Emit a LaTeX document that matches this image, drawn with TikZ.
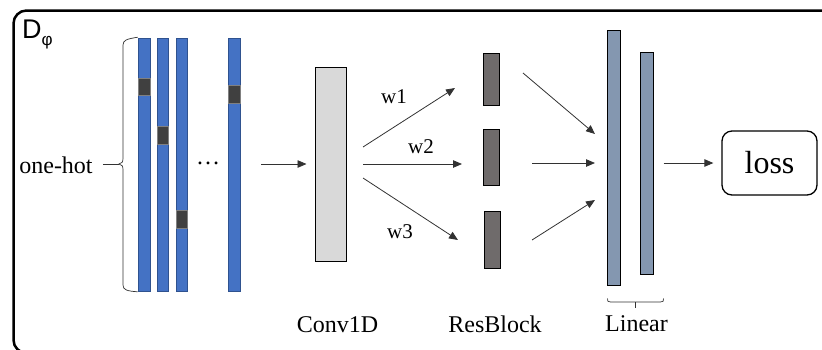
\documentclass[tikz,border=0pt]{standalone}
\usepackage{fontspec}
\setmainfont{Liberation Serif}
\newfontfamily\labsans{Liberation Sans}
\usetikzlibrary{arrows.meta}
\definecolor{hotblue}{RGB}{68,114,196}
\definecolor{hotblueb}{RGB}{47,82,143}
\definecolor{cellgray}{RGB}{64,64,64}
\definecolor{convgray}{RGB}{217,217,217}
\definecolor{resgray}{RGB}{111,107,107}
\definecolor{linblue}{RGB}{132,151,176}
\definecolor{linegray}{RGB}{50,50,50}
\tikzset{
  hotbar/.style={draw=hotblueb, line width=0.6pt, fill=hotblue, inner sep=0pt},
  hotcell/.style={draw=gray, line width=0.6pt, fill=cellgray, inner sep=0pt},
  convbox/.style={draw=black, line width=1pt, fill=convgray, inner sep=0pt, minimum width=31pt, minimum height=194pt},
  resbox/.style={draw=black, line width=1pt, fill=resgray, inner sep=0pt, minimum width=15.5pt},
  linbox/.style={draw=black, line width=1pt, fill=linblue, inner sep=0pt, minimum width=13pt},
  lossbox/.style={draw=black, line width=1.3pt, rounded corners=10pt, minimum width=95pt, minimum height=64pt, inner sep=0pt, font=\fontsize{32}{36}\selectfont},
  arr/.style={draw=linegray, line width=0.8pt, -{Triangle[length=9pt,width=7.5pt]}},
  lbl/.style={font=\fontsize{24}{28}\selectfont, inner sep=0pt, anchor=base},
  wlbl/.style={font=\fontsize{21}{24}\selectfont, inner sep=0pt, anchor=base},
  bracethin/.style={draw=linegray, line width=0.7pt}
}
\begin{document}
\begin{tikzpicture}[x=1pt,y=-1pt]
\useasboundingbox (0,0) rectangle (822,349);
\begin{scope}
\clip (0,0) rectangle (822,349);
\draw[line width=2.5pt, rounded corners=13pt] (13.5,10.5) rectangle (840,353);
\end{scope}
\node[anchor=base west, inner sep=0pt, font=\labsans\fontsize{27}{30}\selectfont] (dphi) at (22,38) {D\raisebox{-7pt}{\fontsize{17}{18}\selectfont φ}};

% one-hot bars
\node[hotbar, minimum width=12pt, minimum height=253pt] (b1) at (144,164.5) {};
\node[hotbar, minimum width=11pt, minimum height=253pt] (b2) at (162.5,164.5) {};
\node[hotbar, minimum width=11pt, minimum height=253pt] (b3) at (181.5,164.5) {};
\node[hotbar, minimum width=12pt, minimum height=253pt] (b4) at (234,164.5) {};
\node[hotcell, minimum width=12pt, minimum height=17pt] (c1) at (144,86.5) {};
\node[hotcell, minimum width=11pt, minimum height=18pt] (c2) at (162.5,135.5) {};
\node[hotcell, minimum width=11pt, minimum height=18pt] (c3) at (181.5,219) {};
\node[hotcell, minimum width=12pt, minimum height=18pt] (c4) at (234,94) {};
\node[inner sep=0pt, anchor=base, font=\fontsize{24}{28}\selectfont] (dots) at (208,164) {…};

% brace and one-hot label
\coordinate (btip) at (119,164);
\draw[bracethin] ([yshift=-0.5pt]b1.south west) .. controls (127,291) and (123,290) .. (123,285)
  -- (123,170) .. controls (123,166) and (122,164.5) .. (btip)
  .. controls (122,163.5) and (123,162) .. (123,158)
  -- (123,45) .. controls (123,40) and (127,39) .. ([yshift=0.5pt]b1.north west);
\node[lbl] (onehot) at (56,173) {one-hot};
\draw[bracethin] (onehot.east |- btip) ++(10,0) coordinate (ls) -- (btip);

% Conv1D
\node[convbox] (conv) at (330.5,164) {};
\draw[arr, shorten <=21pt, shorten >=8pt] (b4.east |- conv.west) -- (conv.west);

% ResBlocks
\node[resbox, minimum height=52pt] (r1) at (491.5,79) {};
\node[resbox, minimum height=56pt] (r2) at (491.5,157) {};
\node[resbox, minimum height=57pt] (r3) at (492.5,239.5) {};

\coordinate (s1) at (363,147);
\coordinate (e1) at (455,88);
\coordinate (s2) at (363,164);
\coordinate (e2) at (462,164);
\coordinate (s3) at (363,178);
\coordinate (e3) at (458,240);
\draw[arr] (s1) -- (e1);
\draw[arr] (s2) -- (e2);
\draw[arr] (s3) -- (e3);
\node[wlbl] (w1) at (394,103) {w1};
\node[wlbl] (w2) at (421,153) {w2};
\node[wlbl] (w3) at (400,238) {w3};

% Linear
\node[linbox, minimum height=255pt] (l1) at (613.5,157.5) {};
\node[linbox, minimum height=222pt] (l2) at (646.5,163) {};
\coordinate (t1) at (523,73);
\coordinate (u1) at (595,134);
\coordinate (t2) at (532,163);
\coordinate (u2) at (595,163);
\coordinate (t3) at (532,240);
\coordinate (u3) at (595,200);
\draw[arr] (t1) -- (u1);
\draw[arr] (t2) -- (u2);
\draw[arr] (t3) -- (u3);
\coordinate (lbl1) at (607.5,298.5);
\coordinate (lbl2) at (663.5,298.5);
\draw[bracethin] (lbl1) .. controls (607.5,301.5) .. (610.5,302) -- (660.5,302) .. controls (663.5,301.5) .. (lbl2);
\draw[bracethin] (635.5,302) -- (635.5,308);

% loss
\node[lossbox] (loss) at (769.5,163) {loss};
\draw[arr, shorten <=10pt, shorten >=8pt] (l2.east |- loss.west) -- (loss.west);

% bottom labels
\node[lbl] (convl) at (337.5,332) {Conv1D};
\node[lbl] (resl) at (495,332) {ResBlock};
\node[lbl] (linl) at (636.5,331) {Linear};
\end{tikzpicture}
\end{document}
